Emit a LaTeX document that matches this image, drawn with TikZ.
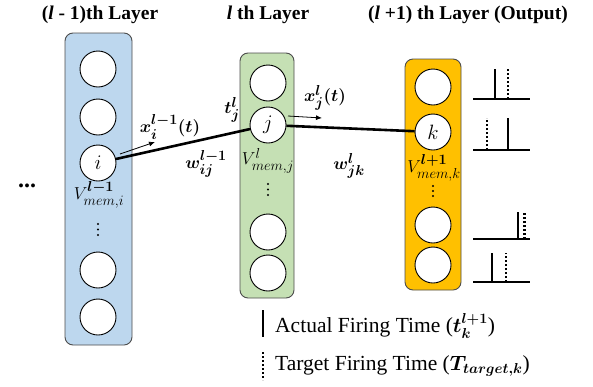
\documentclass[tikz,border=0pt]{standalone}
\usepackage{amsmath,bm}
\usepackage{fontspec}
\setmainfont{Liberation Serif}[BoldFont={Liberation Serif Bold},ItalicFont={Liberation Serif Italic},BoldItalicFont={Liberation Serif Bold Italic}]
\usetikzlibrary{arrows.meta}
\definecolor{boxblue}{HTML}{BDD7EE}
\definecolor{boxgreen}{HTML}{C5E0B4}
\definecolor{boxorange}{HTML}{FFC000}
\begin{document}
\begin{tikzpicture}[x=1pt,y=-1pt,
  layerbox/.style={draw=black!70, line width=0.9pt, rounded corners=8pt, inner sep=0pt},
  neuron/.style={circle, draw=black, fill=white, minimum size=36pt, inner sep=0pt, line width=0.9pt, font=\fontsize{20}{20}\selectfont},
  title/.style={font=\fontsize{19.5}{20}\selectfont\bfseries},
  mlabel/.style={font=\fontsize{19}{19}\selectfont, inner sep=0pt},
  vlabel/.style={font=\fontsize{19}{19}\selectfont, inner sep=0pt},
  vdot/.style={circle, fill=black, inner sep=0pt, minimum size=2.4pt},
  link/.style={line width=2.6pt},
  smallarrow/.style={line width=0.8pt, -{Latex[length=6pt,width=5pt]}},
  spike/.style={line width=2.4pt},
  target/.style={line width=2.4pt, dash pattern=on 2pt off 2pt},
  legendtext/.style={font=\fontsize{21.5}{22}\selectfont, anchor=west, inner sep=0pt}
]
\useasboundingbox (0,0) rectangle (593,386);

% layer boxes
\node[layerbox, fill=boxblue, minimum width=67pt, minimum height=312pt] (Lprev) at (98.5,189) {};
\node[layerbox, fill=boxgreen, minimum width=54pt, minimum height=245pt] (Lcur) at (267,175.5) {};
\node[layerbox, fill=boxorange, minimum width=56pt, minimum height=231pt] (Lnext) at (433,174.5) {};

% titles
\node[title] (t1) at (100,15) {(\textit{l} - 1)th Layer};
\node[title] (t2) at (268,15) {\textit{l} th Layer};
\node[title] (t3) at (468,15) {(\textit{l} +1) th Layer (Output)};

% neurons layer l-1
\node[neuron] (a1) at (98,69) {};
\node[neuron] (a2) at (98,117) {};
\node[neuron] (ni) at (98,163) {$i$};
\node[neuron] (a4) at (98,270) {};
\node[neuron] (a5) at (98,317) {};
\node[vlabel] (vi) at (99,195) {$V^{\bm{l-1}}_{mem,i}$};
\node[vdot] (di1) at (98,224) {};
\node[vdot] (di2) at (98,229.5) {};
\node[vdot] (di3) at (98,235) {};

% neurons layer l
\node[neuron] (b1) at (268,83) {};
\node[neuron] (nj) at (268,125) {$j$};
\node[neuron] (b3) at (268,232) {};
\node[neuron] (b4) at (268,273) {};
\node[vlabel] (vj) at (268,161) {$V^{l}_{mem,j}$};
\node[vdot] (dj1) at (268,184) {};
\node[vdot] (dj2) at (268,189.5) {};
\node[vdot] (dj3) at (268,195) {};

% neurons layer l+1
\node[neuron] (c1) at (433,87) {};
\node[neuron] (nk) at (433,132) {$k$};
\node[neuron] (c3) at (433,225) {};
\node[neuron] (c4) at (433,265) {};
\node[vlabel] (vk) at (434,168) {$V^{\bm{l+1}}_{mem,k}$};
\node[vdot] (dk1) at (433,186) {};
\node[vdot] (dk2) at (433,191) {};
\node[vdot] (dk3) at (433,196) {};

% dots
\node[font=\fontsize{24}{24}\selectfont\bfseries] (dots) at (27,186) {...};

% connections
\draw[link] (ni) -- (nj);
\draw[link] (nj) -- (nk);

% small arrows
\coordinate (s1) at (120,154);
\coordinate (e1) at (155,142);
\draw[smallarrow] (s1) -- (e1);
\coordinate (s2) at (288,116);
\coordinate (e2) at (322,118);
\draw[smallarrow] (s2) -- (e2);

% labels
\node[mlabel] (xi) at (170,127) {$\bm{x_i^{l-1}(t)}$};
\node[mlabel] (wij) at (206,164) {$\bm{w_{ij}^{l-1}}$};
\node[mlabel] (tj) at (232,110) {$\bm{t_j^{l}}$};
\node[mlabel] (xj) at (325,98) {$\bm{x_j^{l}(t)}$};
\node[mlabel] (wjk) at (349,166) {$\bm{w_{jk}^{l}}$};

% spike plots
\coordinate (p1a) at (473,99); \coordinate (p1b) at (530,99);
\draw[spike] (p1a) -- (p1b);
\coordinate (p1s) at (495,69); \coordinate (p1sb) at (495,99);
\draw[spike] (p1sb) -- (p1s);
\coordinate (p1t) at (508,69); \coordinate (p1tb) at (508,99);
\draw[target] (p1tb) -- (p1t);

\coordinate (p2a) at (473,150); \coordinate (p2b) at (530,150);
\draw[spike] (p2a) -- (p2b);
\coordinate (p2s) at (508,118); \coordinate (p2sb) at (508,150);
\draw[spike] (p2sb) -- (p2s);
\coordinate (p2t) at (487,118); \coordinate (p2tb) at (487,150);
\draw[target] (p2tb) -- (p2t);

\coordinate (p3a) at (473,239); \coordinate (p3b) at (530,239);
\draw[spike] (p3a) -- (p3b);
\coordinate (p3s) at (518,212); \coordinate (p3sb) at (518,239);
\draw[spike] (p3sb) -- (p3s);
\coordinate (p3t) at (524.5,212); \coordinate (p3tb) at (524.5,239);
\draw[target] (p3tb) -- (p3t);

\coordinate (p4a) at (473,282); \coordinate (p4b) at (530,282);
\draw[spike] (p4a) -- (p4b);
\coordinate (p4s) at (492,253); \coordinate (p4sb) at (492,282);
\draw[spike] (p4sb) -- (p4s);
\coordinate (p4t) at (506,253); \coordinate (p4tb) at (506,282);
\draw[target] (p4tb) -- (p4t);

% legend
\coordinate (la) at (263,310); \coordinate (lb) at (263,337);
\draw[spike] (la) -- (lb);
\coordinate (lc) at (263,352); \coordinate (ld) at (263,380);
\draw[target] (lc) -- (ld);
\node[legendtext] (leg1) at (275,326) {Actual Firing Time ($\bm{t_k^{l+1}}$)};
\node[legendtext] (leg2) at (275,366) {Target Firing Time ($\bm{T_{target,k}}$)};
\end{tikzpicture}
\end{document}
